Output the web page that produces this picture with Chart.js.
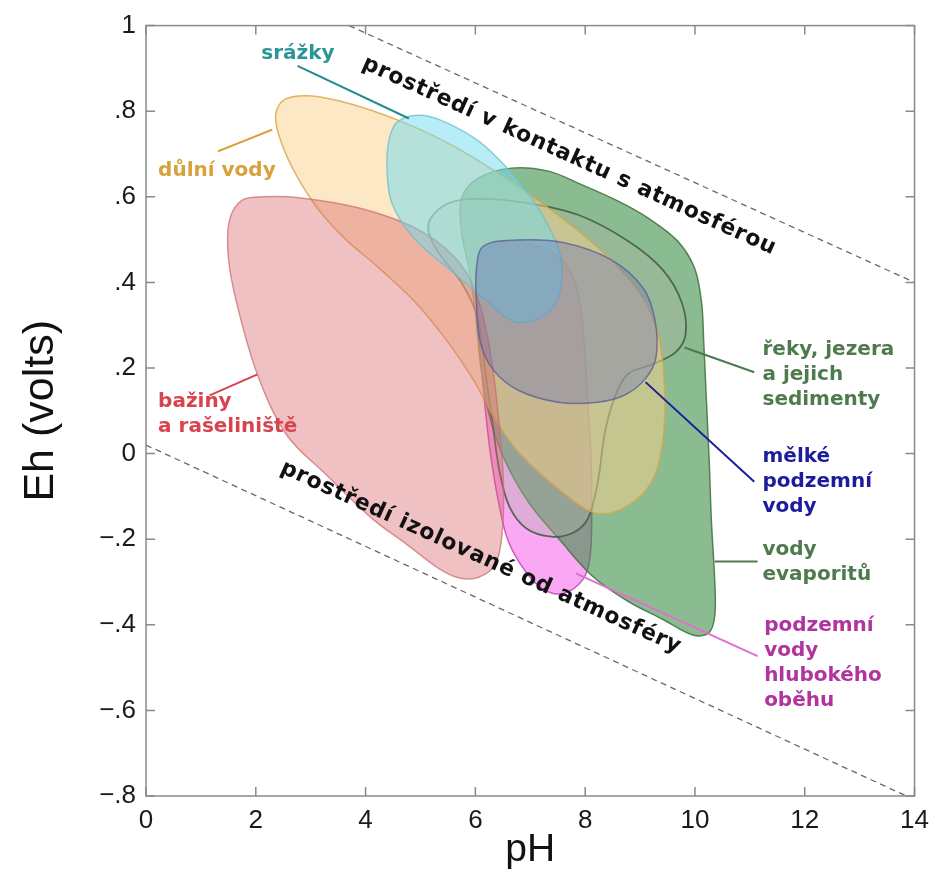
<!DOCTYPE html>
<html><head><meta charset="utf-8">
<script src="https://cdn.jsdelivr.net/npm/chart.js@4.4.1/dist/chart.umd.min.js"></script>
<style>html,body{margin:0;padding:0;background:#fff}</style>
</head><body>
<canvas id="c" width="938" height="874"></canvas>
<script>
// ---- data (pH, Eh in volts) ----
const phRange = [0, 14];
const ehRange = [-0.8, 1.0];
const upperWaterLine = [[3.7, 1.0], [14, 0.4]];
const lowerWaterLine = [[0, 0.02], [13.85, -0.8]];

const srazky = [[4.61,0.778],[5.06,0.790],[5.51,0.771],[6.06,0.730],[6.55,0.671],[6.96,0.609],[7.27,0.546],[7.51,0.481],[7.58,0.418],[7.47,0.353],[7.15,0.316],[6.69,0.309],[6.24,0.353],[5.60,0.423],[4.88,0.504],[4.48,0.585],[4.39,0.667],[4.44,0.740]];
const dulniVody = [[2.52,0.827],[2.97,0.836],[3.70,0.818],[4.61,0.778],[5.51,0.725],[6.42,0.655],[7.33,0.574],[8.23,0.481],[8.96,0.381],[9.32,0.283],[9.45,0.144],[9.41,0.027],[9.23,-0.061],[8.81,-0.119],[8.23,-0.140],[7.56,-0.087],[6.82,-0.001],[6.37,0.078],[5.97,0.171],[5.48,0.264],[4.88,0.357],[4.24,0.434],[3.61,0.504],[3.12,0.574],[2.74,0.650],[2.47,0.725],[2.36,0.790]];
const baziny = [[2.15,0.600],[2.79,0.598],[3.88,0.574],[4.79,0.534],[5.42,0.483],[5.85,0.420],[6.12,0.330],[6.30,0.213],[6.43,0.074],[6.51,-0.066],[6.49,-0.182],[6.37,-0.257],[6.06,-0.289],[5.69,-0.290],[5.33,-0.268],[4.75,-0.212],[4.12,-0.152],[3.28,-0.049],[2.56,0.044],[2.03,0.185],[1.65,0.353],[1.50,0.460],[1.52,0.545],[1.75,0.592]];
const rekyJezera = [[5.19,0.550],[5.51,0.585],[6.06,0.595],[6.96,0.585],[7.87,0.558],[8.78,0.497],[9.41,0.430],[9.76,0.353],[9.83,0.279],[9.65,0.237],[9.23,0.209],[8.78,0.186],[8.54,0.132],[8.36,0.050],[8.23,-0.066],[8.05,-0.152],[7.78,-0.185],[7.38,-0.194],[6.93,-0.175],[6.62,-0.124],[6.44,-0.042],[6.31,0.074],[6.17,0.202],[6.04,0.318],[5.75,0.399],[5.33,0.469],[5.15,0.516]];
const melkePodzemni = [[6.15,0.485],[6.78,0.499],[7.64,0.492],[8.47,0.453],[9.05,0.388],[9.27,0.313],[9.29,0.225],[9.09,0.174],[8.72,0.137],[8.23,0.120],[7.51,0.120],[6.78,0.148],[6.33,0.195],[6.09,0.260],[6.02,0.353],[6.02,0.434]];
const evapority = [[5.75,0.597],[6.06,0.644],[6.66,0.667],[7.33,0.660],[7.87,0.632],[8.60,0.590],[9.14,0.551],[9.68,0.497],[9.99,0.434],[10.12,0.353],[10.16,0.260],[10.21,0.120],[10.26,-0.020],[10.30,-0.159],[10.36,-0.299],[10.36,-0.380],[10.25,-0.419],[9.96,-0.424],[9.41,-0.387],[8.78,-0.345],[8.14,-0.287],[7.56,-0.205],[6.96,-0.112],[6.51,-0.008],[6.24,0.097],[6.09,0.213],[6.00,0.330],[5.88,0.434],[5.75,0.516]];
const hlubokyObeh = [[6.51,0.499],[7.05,0.488],[7.60,0.450],[7.87,0.376],[7.98,0.260],[8.05,0.120],[8.11,-0.020],[8.12,-0.136],[8.09,-0.240],[7.96,-0.294],[7.60,-0.327],[7.24,-0.317],[6.91,-0.275],[6.60,-0.205],[6.42,-0.112],[6.27,0.004],[6.15,0.143],[6.06,0.283],[6.02,0.399],[6.15,0.469]];

// ---- annotation texts ----
const regionLabels = [
  {lines:['srážky'], at:[2.10,0.934], color:'#2b9696', lead:[[2.76,0.906],[4.79,0.783]], lc:'#238c8c'},
  {lines:['důlní vody'], at:[0.22,0.660], color:'#d9a13c', lead:[[1.31,0.706],[2.30,0.757]], lc:'#d89c2c'},
  {lines:['bažiny','a rašeliniště'], at:[0.22,0.120], color:'#d8434e', lead:[[1.16,0.136],[2.03,0.185]], lc:'#d8434e'},
  {lines:['řeky, jezera','a jejich','sedimenty'], at:[11.23,0.243], color:'#4e7a4e', lead:[[9.81,0.248],[11.08,0.190]], lc:'#4e7a4e'},
  {lines:['mělké','podzemní','vody'], at:[11.23,-0.008], color:'#1c1c9c', lead:[[9.10,0.167],[11.08,-0.066]], lc:'#1c1c9c'},
  {lines:['vody','evaporitů'], at:[11.23,-0.224], color:'#4e7a4e', lead:[[10.36,-0.252],[11.14,-0.252]], lc:'#4e7a4e'},
  {lines:['podzemní','vody','hlubokého','oběhu'], at:[11.26,-0.403], color:'#b0339f', lead:[[7.83,-0.280],[11.14,-0.473]], lc:'#e070d0'}
];
const zoneLabels = [
  {text:'prostředí v kontaktu s atmosférou', at:[7.71,0.695]},
  {text:'prostředí izolované od atmosféry', at:[6.10,-0.243]}
];

const toXY = arr => arr.map(p => ({x:p[0], y:p[1]}));
function region(label, pts, fill, border, bw) {
  return {label, data: toXY(pts), closed:true, fill:'shape', backgroundColor: fill,
    borderColor: border, borderWidth: bw || 1.5, tension: 0.35, pointRadius: 0};
}
function dashed(label, pts) {
  return {label, data: toXY(pts), fill:false, borderColor:'#6a6a6a', borderWidth:1.3,
    borderDash:[6,4.5], pointRadius:0, tension:0};
}

// datasets listed top-most first (Chart.js draws the last one first)
const datasets = [
  dashed('upper', upperWaterLine),
  dashed('lower', lowerWaterLine),
  region('mělké podzemní vody', melkePodzemni, 'rgba(100,110,190,0.35)', 'rgba(90,90,150,0.75)'),
  region('srážky', srazky, 'rgba(110,220,240,0.5)', 'rgba(110,190,200,0.75)'),
  region('bažiny a rašeliniště', baziny, 'rgba(215,100,105,0.4)', 'rgba(200,110,110,0.7)'),
  region('důlní vody', dulniVody, 'rgba(252,210,140,0.5)', 'rgba(215,165,70,0.8)'),
  region('řeky, jezera a jejich sedimenty', rekyJezera, 'rgba(175,180,165,0.35)', 'rgba(70,95,70,0.9)', 1.8),
  region('vody evaporitů', evapority, 'rgba(55,140,65,0.58)', 'rgba(70,120,70,0.9)'),
  region('podzemní vody hlubokého oběhu', hlubokyObeh, 'rgba(245,60,230,0.45)', 'rgba(190,60,180,0.8)')
];

const closeShapes = {
  id:'closeShapes',
  afterDatasetsUpdate(chart) {
    chart.data.datasets.forEach((ds, i) => {
      if (!ds.closed) return;
      const line = chart.getDatasetMeta(i).dataset;
      if (!line) return;
      line._loop = true; line._fullLoop = true;
      line._pointsUpdated = false; line._segments = undefined; line._path = undefined;
    });
  }
};

const frame = {
  id:'frame',
  afterDatasetsDraw(chart) {
    const {ctx, chartArea:a, scales:{x, y}} = chart;
    ctx.save();
    ctx.strokeStyle = '#8a8a8a'; ctx.lineWidth = 1.5;
    ctx.strokeRect(a.left, a.top, a.right - a.left, a.bottom - a.top);
    ctx.beginPath();
    const L = 9;
    x.ticks.forEach(t => { const p = x.getPixelForValue(t.value);
      ctx.moveTo(p, a.bottom); ctx.lineTo(p, a.bottom - L); ctx.moveTo(p, a.top); ctx.lineTo(p, a.top + L); });
    y.ticks.forEach(t => { const p = y.getPixelForValue(t.value);
      ctx.moveTo(a.left, p); ctx.lineTo(a.left + L, p); ctx.moveTo(a.right, p); ctx.lineTo(a.right - L, p); });
    ctx.stroke();
    ctx.restore();
  }
};

const annotations = {
  id:'annotations',
  afterDatasetsDraw(chart) {
    const {ctx, scales:{x, y}} = chart;
    const P = d => [x.getPixelForValue(d[0]), y.getPixelForValue(d[1])];
    ctx.save();
    regionLabels.forEach(r => {
      const a = P(r.lead[0]), b = P(r.lead[1]);
      ctx.strokeStyle = r.lc; ctx.lineWidth = 2;
      ctx.beginPath(); ctx.moveTo(a[0], a[1]); ctx.lineTo(b[0], b[1]); ctx.stroke();
      const t = P(r.at);
      ctx.fillStyle = r.color; ctx.font = 'bold 20px "DejaVu Sans"';
      ctx.textAlign = 'left'; ctx.textBaseline = 'middle';
      r.lines.forEach((s, i) => ctx.fillText(s, t[0], t[1] + i * 25));
    });
    const ang = Math.atan2(y.getPixelForValue(0.4) - y.getPixelForValue(1.0), x.getPixelForValue(14) - x.getPixelForValue(3.7));
    zoneLabels.forEach(z => {
      const c = P(z.at);
      ctx.save();
      ctx.translate(c[0], c[1]); ctx.rotate(ang);
      ctx.fillStyle = '#111'; ctx.font = 'bold 22px "DejaVu Sans"';
      try { ctx.letterSpacing = '0.8px'; } catch(e) {}
      ctx.textAlign = 'center'; ctx.textBaseline = 'middle';
      ctx.fillText(z.text, 0, 0);
      ctx.restore();
    });
    ctx.restore();
  }
};

function ehLabel(v) {
  if (Math.abs(v) < 1e-9) return '0';
  if (Math.abs(v - 1) < 1e-9) return '1';
  const s = Math.abs(v).toFixed(1).replace(/^0/, '');
  return (v < 0 ? '\u2212' : '') + s;
}

new Chart(document.getElementById('c'), {
  type:'line',
  data:{datasets},
  options:{
    responsive:false, animation:false, events:[],
    layout:{padding:{top:22, right:20, left:0, bottom:0}},
    plugins:{legend:{display:false}, tooltip:{enabled:false}},
    scales:{
      x:{type:'linear', min:phRange[0], max:phRange[1],
        grid:{display:false, drawTicks:false}, border:{display:false},
        ticks:{stepSize:2, font:{family:'"Liberation Sans", Arial, sans-serif', size:26}, color:'#1a1a1a', padding:9, maxRotation:0},
        title:{display:true, text:'pH', font:{family:'"Liberation Sans", Arial, sans-serif', size:39}, color:'#111', padding:{top:0, bottom:0}},
        afterFit(s){ s.height = 78; }},
      y:{type:'linear', min:ehRange[0], max:ehRange[1],
        grid:{display:false, drawTicks:false}, border:{display:false},
        ticks:{stepSize:0.2, callback: ehLabel, font:{family:'"Liberation Sans", Arial, sans-serif', size:26}, color:'#1a1a1a', padding:10},
        title:{display:true, text:'Eh (volts)', font:{family:'"Liberation Sans", Arial, sans-serif', size:43}, color:'#111', padding:{top:15, bottom:0}},
        afterFit(s){ s.width = 146; }}
    }
  },
  plugins:[closeShapes, frame, annotations]
});
</script>
</body></html>
